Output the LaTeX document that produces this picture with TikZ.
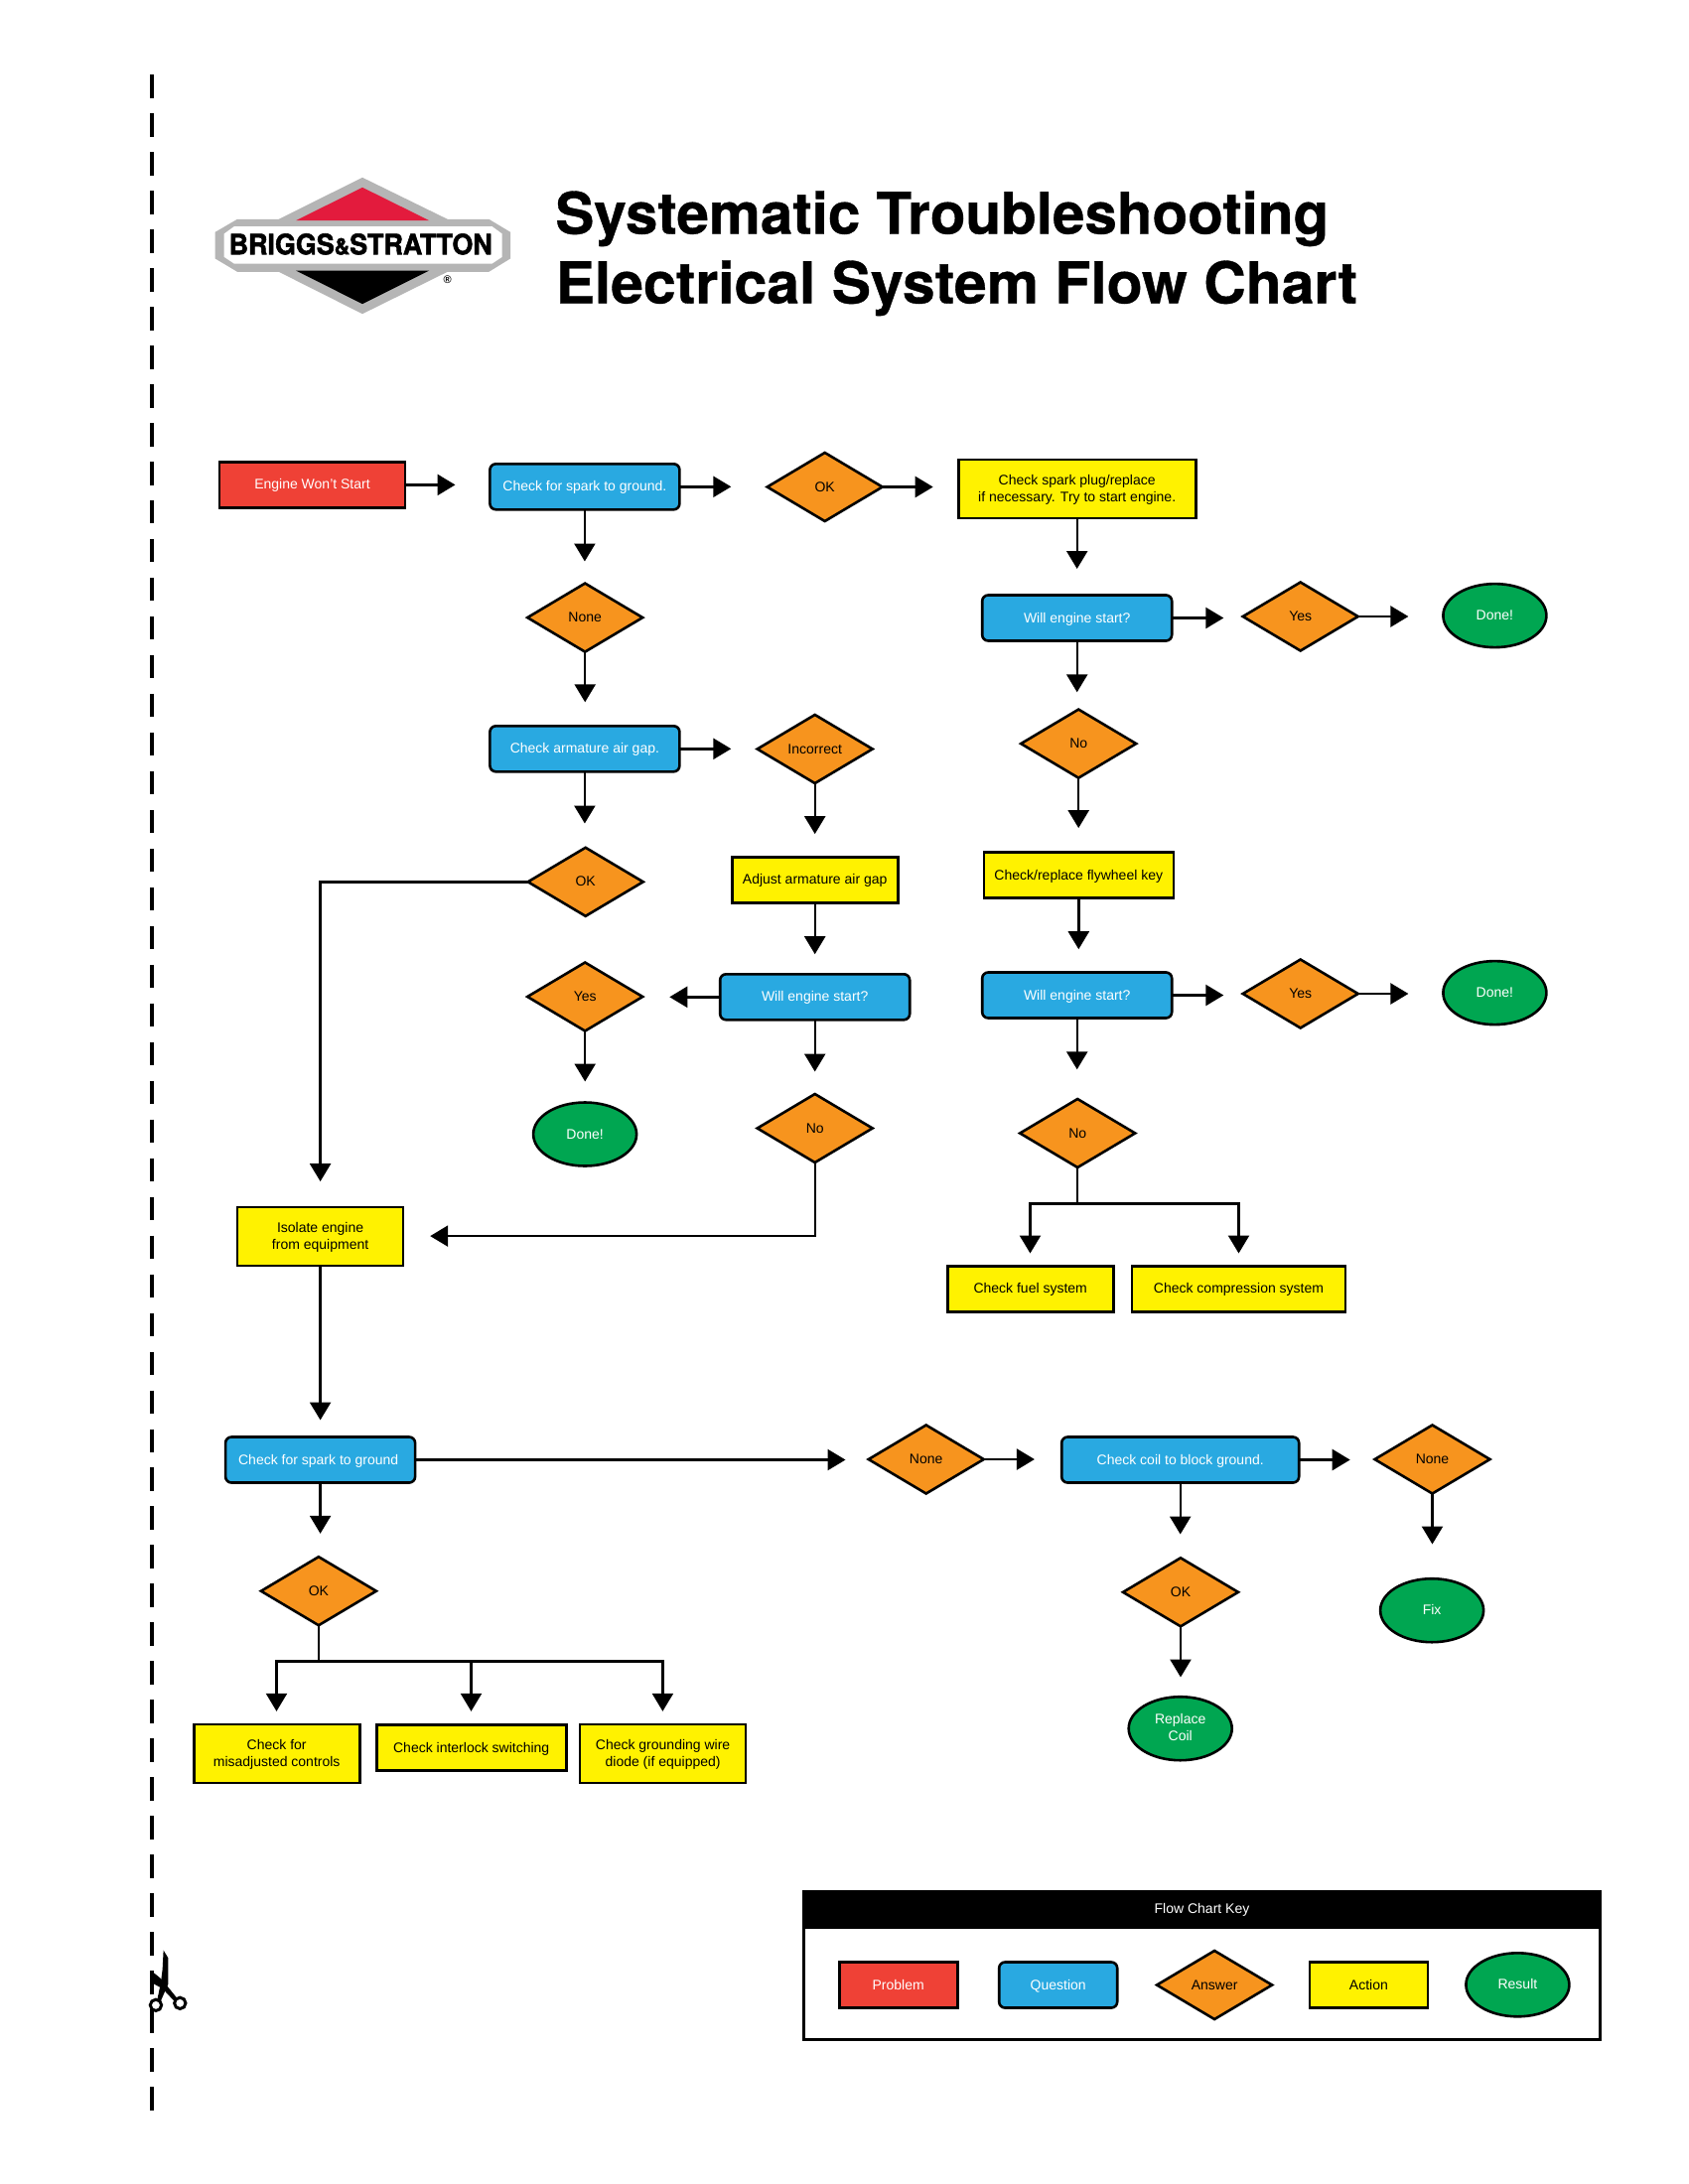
\documentclass[tikz,border=0pt]{standalone}
\usepackage{fontspec}
\setmainfont{Liberation Sans}
\newfontfamily\titlefont[FakeBold=0.6]{TeX Gyre Heros Bold}
\newfontfamily\logofont[FakeBold=2]{TeX Gyre Heros Bold}
\usetikzlibrary{arrows.meta,shapes.geometric}
\definecolor{cred}{HTML}{EF4136}
\definecolor{cblue}{HTML}{29A9E1}
\definecolor{corange}{HTML}{F7941E}
\definecolor{cyellow}{HTML}{FFF200}
\definecolor{cgreen}{HTML}{00A651}
\definecolor{cgray}{HTML}{B5B5B5}
\definecolor{clogored}{HTML}{E31B3D}
\newcommand{\topstrut}{\rule{0pt}{11.5pt}}
\newcommand{\botstrut}{\rule[-3pt]{0pt}{3pt}}
\tikzset{
  lbl/.style={font=\fontsize{14}{17}\selectfont,align=center,inner sep=0pt,outer sep=0pt,draw=black,line width=2.6pt,text height=11.5pt,text depth=2.5pt},
  ml/.style={text height=,text depth=},
  problem/.style={lbl,rectangle,fill=cred,text=white,minimum width=187pt,minimum height=46pt},
  question/.style={lbl,rectangle,rounded corners=6pt,fill=cblue,text=white,minimum height=46pt},
  answer/.style={lbl,diamond,fill=corange,text=black,minimum width=116pt,minimum height=69pt},
  action/.style={lbl,rectangle,fill=cyellow,text=black,minimum height=46pt},
  result/.style={lbl,ellipse,fill=cgreen,text=white,minimum width=104pt,minimum height=64pt},
  conn/.style={line width=2.4pt,draw=black},
  arr/.style={conn,-{Triangle[length=18pt,width=21pt]}},
}
\begin{document}
\begin{tikzpicture}[x=1pt,y=-1pt]
\useasboundingbox (-0.7,-0.5) rectangle (1699.3,2199.5);
% cut line
\coordinate (cuttop) at (152.4,74.7);
\coordinate (cutbot) at (152.4,2125.2);
\draw[line width=4pt,dash pattern=on 23.5pt off 15.48pt] (cuttop) -- (cutbot);
% scissors
\begin{scope}[shift={(119.6,1900)},x=0.3333pt,y=-0.3333pt]
\fill (133,192) -- (147,215) -- (147,295) -- (125,345) -- (115,338) -- (125,290) -- (130,250) -- cycle;
\fill (97,255) -- (122,275) -- (140,295) -- (175,338) -- (165,345) -- (130,308) -- (97,290) -- cycle;
\draw[line width=3pt] (110,358) circle[radius=17];
\draw[line width=3pt] (183,352) circle[radius=17];
\end{scope}
% logo
\fill[cgray] (364.3,178.3) -- (450,220.3) -- (491.7,220.3) -- (513.3,233.3) -- (513.3,260) -- (491.7,273.3) -- (450,273.3) -- (364.3,315.7) -- (280,273.3) -- (238.3,273.3) -- (216,260) -- (216,233.3) -- (238.3,220.3) -- (280,220.3) -- cycle;
\fill[white] (235,227.7) -- (495,227.7) -- (505,235) -- (505,258.3) -- (495,265) -- (235,265) -- (225,258.3) -- (225,235) -- cycle;
\fill[clogored] (364.3,188.3) -- (431.7,221.7) -- (297.3,221.7) -- cycle;
\fill[black] (297.3,272) -- (431.7,272) -- (364.3,305.7) -- cycle;
\node[inner sep=0pt] (logotext) at (362.5,245.5) {\resizebox{265pt}{21pt}{\logofont BRIGGS{\footnotesize\&}STRATTON}};
\node[inner sep=0pt,font=\bfseries\fontsize{11}{11}\selectfont] (logoreg) at (450,281.7) {®};
% title
\node[anchor=base west,inner sep=0pt] (title1) at (558.5,235) {\scalebox{1.006}[1]{\titlefont\fontsize{58}{60}\selectfont Systematic Troubleshooting}};
\node[anchor=base west,inner sep=0pt] (title2) at (558.7,305) {\scalebox{1.015}[1]{\titlefont\fontsize{58}{60}\selectfont Electrical System Flow Chart}};
% row nodes
\node[problem] (engine) at (313.8,487.9) {Engine Won't Start};
\node[question,minimum width=191pt] (spark1) at (588.2,489.8) {Check for spark to ground.};
\node[answer] (ok1) at (830,490) {OK};
\node[action,ml,minimum width=239pt,minimum height=59pt] (plug) at (1084,492) {\topstrut Check spark plug/replace\\if necessary. Try to start engine.\botstrut};
\node[answer] (none1) at (588.5,621.6) {None};
\node[question,minimum width=191pt] (gap) at (588.2,753.8) {Check armature air gap.};
\node[answer] (incorrect) at (820,754) {Incorrect};
\node[answer] (ok2) at (589,887.8) {OK};
\node[action,minimum width=167pt] (adjust) at (820,885.7) {Adjust armature air gap};
\node[question,minimum width=191pt] (will3) at (820,1003.8) {Will engine start?};
\node[answer] (yes3) at (588.5,1003.5) {Yes};
\node[result] (done3) at (588.4,1142) {Done!};
\node[answer] (no3) at (820,1136) {No};
\node[action,ml,minimum width=167pt,minimum height=59pt] (isolate) at (321.9,1245) {\topstrut Isolate engine\\from equipment\botstrut};
\node[question,minimum width=191pt] (will1) at (1084,622) {Will engine start?};
\node[answer] (yes1) at (1309,620.5) {Yes};
\node[result] (done1) at (1504.7,619.6) {Done!};
\node[answer] (no1) at (1085.5,748.6) {No};
\node[action,minimum width=191pt] (key) at (1085.6,881) {Check/replace flywheel key};
\node[question,minimum width=191pt] (will2) at (1084,1002) {Will engine start?};
\node[answer] (yes2) at (1309,1000.5) {Yes};
\node[result] (done2) at (1504.7,999.6) {Done!};
\node[answer] (no2) at (1084.5,1141) {No};
\node[action,minimum width=167pt] (fuel) at (1037,1297.9) {Check fuel system};
\node[action,minimum width=215pt] (compr) at (1246.8,1297.9) {Check compression system};
\node[question,minimum width=191pt] (spark2) at (321.9,1470) {Check for spark to ground\hphantom{.}};
\node[answer] (ok3) at (320.2,1602.2) {OK};
\node[action,ml,minimum width=167pt,minimum height=59pt] (misadj) at (278,1765.8) {\topstrut Check for\\misadjusted controls\botstrut};
\node[action,minimum width=191pt] (interlock) at (474,1760) {Check interlock switching};
\node[action,ml,minimum width=167pt,minimum height=59pt] (grounding) at (666.9,1765.8) {\topstrut Check grounding wire\\diode (if equipped)\botstrut};
\node[answer] (none2) at (932,1469.5) {None};
\node[question,minimum width=239pt] (coil) at (1188,1470) {Check coil to block ground.};
\node[answer] (none3) at (1441.8,1469.5) {None};
\node[answer] (ok4) at (1188.3,1603.3) {OK};
\node[result,ml] (replace) at (1188,1740.7) {\topstrut Replace\\Coil\botstrut};
\node[result] (fix) at (1441.4,1621.7) {Fix};
% free arrow ends
\coordinate (e1) at (457.8,487.9);
\coordinate (e2) at (735.6,489.8);
\coordinate (e3) at (588.2,565);
\coordinate (e4) at (939,490);
\coordinate (e5) at (588.5,706.8);
\coordinate (e6) at (735.6,753.8);
\coordinate (e7) at (588.2,829);
\coordinate (e8) at (820,839.6);
\coordinate (e9) at (820,960.7);
\coordinate (e10) at (673.6,1003.8);
\coordinate (e11) at (588.5,1089);
\coordinate (e12) at (820,1079);
\coordinate (e13) at (432.5,1244.6);
\coordinate (b13) at (820,1244.6);
\coordinate (b14) at (321.9,887.8);
\coordinate (e14) at (321.9,1189.6);
\coordinate (e15) at (321.9,1430);
\coordinate (e16) at (850.8,1470);
\coordinate (e17) at (321.9,1544.3);
\coordinate (j1) at (320.2,1673);
\coordinate (j1l) at (277.8,1673);
\coordinate (j1m) at (473.8,1673);
\coordinate (j1r) at (666.7,1673);
\coordinate (e18) at (277.8,1723.3);
\coordinate (e19) at (473.8,1723.3);
\coordinate (e20) at (666.7,1723.3);
\coordinate (e21) at (1084,572.5);
\coordinate (e22) at (1231.6,622);
\coordinate (e23) at (1417.7,620.5);
\coordinate (e24) at (1084,696.8);
\coordinate (e25) at (1085.5,833.6);
\coordinate (e26) at (1085.6,955.7);
\coordinate (e27) at (1231.6,1002);
\coordinate (e28) at (1417.7,1000.5);
\coordinate (e29) at (1084,1076.8);
\coordinate (j2) at (1084.5,1211.8);
\coordinate (j2l) at (1036.8,1211.8);
\coordinate (j2r) at (1246.8,1211.8);
\coordinate (e30) at (1036.8,1262);
\coordinate (e31) at (1246.8,1262);
\coordinate (e32) at (1041.2,1469.5);
\coordinate (e33) at (1359,1470);
\coordinate (e34) at (1188,1545);
\coordinate (e35) at (1188.3,1689);
\coordinate (e36) at (1441.8,1555);
% connectors
\draw[arr] (engine.east) -- (e1);
\draw[arr] (spark1.east) -- (e2);
\draw[arr] (spark1.south) -- (e3);
\draw[arr] (ok1.east) -- (e4);
\draw[arr] (none1.south) -- (e5);
\draw[arr] (gap.east) -- (e6);
\draw[arr] (gap.south) -- (e7);
\draw[arr] (incorrect.south) -- (e8);
\draw[arr] (adjust.south) -- (e9);
\draw[arr] (will3.west) -- (e10);
\draw[arr] (yes3.south) -- (e11);
\draw[arr] (will3.south) -- (e12);
\draw[arr] (no3.south) -- (b13) -- (e13);
\draw[arr] (ok2.west) -- (b14) -- (e14);
\draw[arr] (isolate.south) -- (e15);
\draw[arr] (spark2.east) -- (e16);
\draw[arr] (spark2.south) -- (e17);
\draw[conn] (ok3.south) -- (j1);
\draw[arr] (j1) -- (j1l) -- (e18);
\draw[arr] (j1m) -- (e19);
\draw[arr] (j1) -- (j1r) -- (e20);
\draw[arr] (plug.south) -- (e21);
\draw[arr] (will1.east) -- (e22);
\draw[arr] (yes1.east) -- (e23);
\draw[arr] (will1.south) -- (e24);
\draw[arr] (no1.south) -- (e25);
\draw[arr] (key.south) -- (e26);
\draw[arr] (will2.east) -- (e27);
\draw[arr] (yes2.east) -- (e28);
\draw[arr] (will2.south) -- (e29);
\draw[conn] (no2.south) -- (j2);
\draw[arr] (j2) -- (j2l) -- (e30);
\draw[arr] (j2) -- (j2r) -- (e31);
\draw[arr] (none2.east) -- (e32);
\draw[arr] (coil.east) -- (e33);
\draw[arr] (coil.south) -- (e34);
\draw[arr] (ok4.south) -- (e35);
\draw[arr] (none3.south) -- (e36);
% key
\node[draw=black,line width=2.6pt,fill=white,minimum width=802pt,minimum height=149pt,inner sep=0pt,outer sep=0pt] (keybox) at (1209.8,1979.3) {};
\node[fill=black,text=white,minimum width=802pt,minimum height=38pt,inner sep=0pt,font=\fontsize{14}{17}\selectfont] (keyhead) at (1209.8,1923.3) {Flow Chart Key};
\node[problem,minimum width=119pt] (kprob) at (904,1999) {Problem};
\node[question,minimum width=119pt] (kques) at (1065,1999) {Question};
\node[answer] (kans) at (1222.4,1999) {Answer};
\node[action,minimum width=119pt] (kact) at (1377.7,1999) {Action};
\node[result] (kres) at (1527.7,1998.8) {Result};
\end{tikzpicture}
\end{document}
